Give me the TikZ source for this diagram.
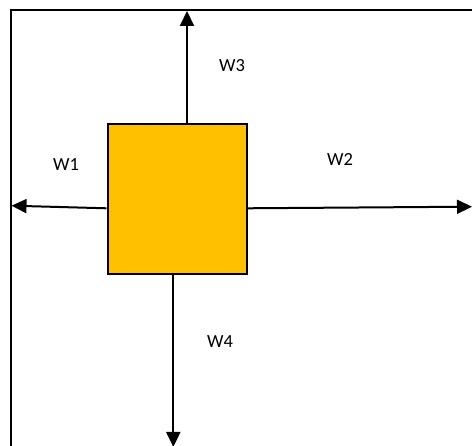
\documentclass[tikz,border=0pt]{standalone}
\usepackage{fontspec}
\setmainfont{Carlito}
\usetikzlibrary{arrows.meta}
\definecolor{boxfill}{HTML}{FFC000}
\tikzset{
  frameline/.style={line width=1.6pt, black},
  force/.style={line width=2pt, black, -{Triangle[length=15pt,width=14pt]}},
  body/.style={draw=black, line width=2pt, fill=boxfill, minimum width=139pt, minimum height=150pt, inner sep=0pt},
  lbl/.style={font=\fontsize{18.5pt}{20pt}\selectfont, inner sep=0pt}
}
\begin{document}
\begin{tikzpicture}[x=1pt,y=1pt]
  \useasboundingbox (0,0) rectangle (472,446);
  % open frame: top and left edges
  \coordinate (fTL) at (11,436);
  \coordinate (fTR) at (472,436);
  \coordinate (fBL) at (11,0);
  \draw[frameline] (fTR) -- (fTL) -- (fBL);
  % central body
  \node[body] (box) at (177,246.5) {};
  % arrow end points
  \coordinate (tipN) at (187,435);
  \coordinate (tipS) at (173.3,-1);
  \coordinate (tipW) at (11.5,240.3);
  \coordinate (tipE) at (472,239.3);
  \draw[force] ([xshift=10pt]box.north) -- (tipN);
  \draw[force] ([xshift=-3.7pt]box.south) -- (tipS);
  \draw[force] ([yshift=-8.8pt]box.west) -- (tipW);
  \draw[force] ([yshift=-8.8pt]box.east) -- (tipE);
  % labels
  \node[lbl] (w1) at (66,281) {W1};
  \node[lbl] (w2) at (340,286) {W2};
  \node[lbl] (w3) at (232,380) {W3};
  \node[lbl] (w4) at (220,104) {W4};
\end{tikzpicture}
\end{document}
